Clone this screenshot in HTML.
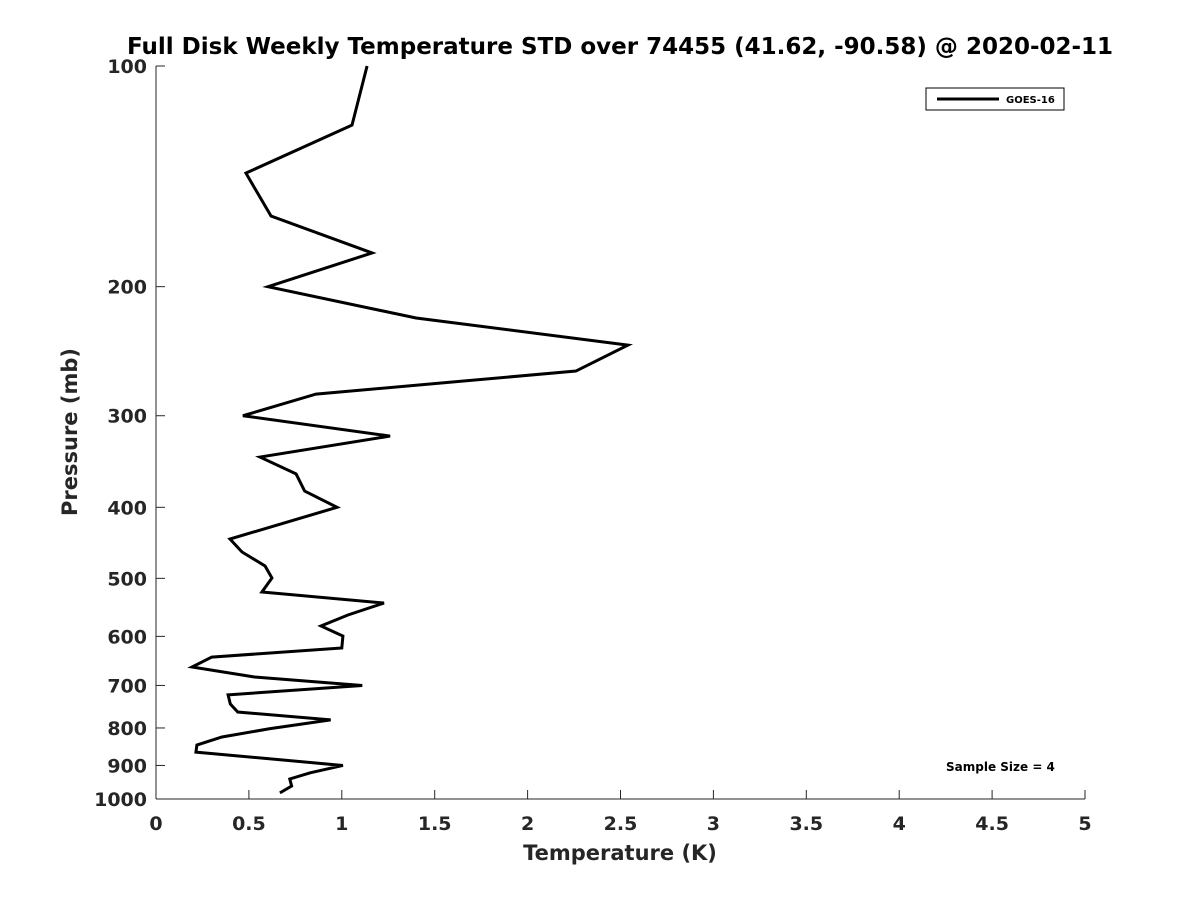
<!DOCTYPE html>
<html><head><meta charset="utf-8"><style>
body{margin:0;background:#fff;}
svg text{font-family:"DejaVu Sans","Liberation Sans",sans-serif;font-weight:bold;fill:#262626;}
</style></head><body>
<svg id="chart" width="1200" height="900" xmlns="http://www.w3.org/2000/svg">
<rect width="1200" height="900" fill="#fff"/>
<text x="620" y="54" text-anchor="middle" font-size="23" style="fill:#000">Full Disk Weekly Temperature STD over 74455 (41.62, -90.58) @ 2020-02-11</text>
<g id="axes"></g>
<text x="620" y="860" text-anchor="middle" font-size="21">Temperature (K)</text>
<text transform="translate(77,432) rotate(-90)" text-anchor="middle" font-size="21">Pressure (mb)</text>
<g>
<rect x="926" y="88" width="138" height="22" fill="#fff" stroke="#000" stroke-width="1"/>
<line x1="937" y1="99" x2="999" y2="99" stroke="#000" stroke-width="3"/>
<text x="1006" y="103" font-size="10" style="fill:#000">GOES-16</text>
</g>
<text x="946" y="771" font-size="12" style="fill:#000">Sample Size = 4</text>
</svg>
<script>
const xTicks=[0,0.5,1,1.5,2,2.5,3,3.5,4,4.5,5];
const xTickLabels=["0","0.5","1","1.5","2","2.5","3","3.5","4","4.5","5"];
const yTicks=[100,200,300,400,500,600,700,800,900,1000];
const pressure=[100,120.4,140,160.2,179.9,200,220.7,240.3,260.7,280.3,300,319.8,341.6,360.2,380.1,400,441.9,460.3,481,499.5,522,540.3,561,580.7,599.4,622.3,640.3,660.6,681.6,700,721,742,761,780,802,823,844,863,900,921,939,960,981];
const stdK=[1.136,1.055,0.484,0.619,1.163,0.603,1.40,2.54,2.26,0.861,0.468,1.26,0.56,0.754,0.80,0.974,0.398,0.463,0.587,0.624,0.57,1.227,1.033,0.888,1.006,1.0,0.30,0.194,0.53,1.11,0.388,0.40,0.44,0.94,0.61,0.355,0.22,0.215,1.006,0.83,0.72,0.73,0.667];
const X0=156,X1=1085,Y0=66,Y1=799;
const xs=v=>X0+(v-0)/(5-0)*(X1-X0);
const ys=p=>Y0+(Math.log10(p)-2)/1*(Y1-Y0);
const NS="http://www.w3.org/2000/svg";
const svg=document.getElementById('chart');
const ax=document.getElementById('axes');
function mk(t,a,parent){const e=document.createElementNS(NS,t);for(const k in a)e.setAttribute(k,a[k]);(parent||ax).appendChild(e);return e;}
const yAxis=mk('line',{x1:X0,y1:Y0,x2:X0,y2:Y1,stroke:'#262626','stroke-width':1});


const xAxis=mk('line',{x1:X0,y1:Y1,x2:X1,y2:Y1,stroke:'#262626','stroke-width':1});


xTicks.forEach((v,i)=>{
  mk('line',{x1:xs(v),y1:Y1,x2:xs(v),y2:Y1-9,stroke:'#262626'});
  const t=mk('text',{x:xs(v),y:Y1+31,'text-anchor':'middle','font-size':19});
  
  
  t.textContent=xTickLabels[i];
});
yTicks.forEach(p=>{
  mk('line',{x1:X0,y1:ys(p),x2:X0+9,y2:ys(p),stroke:'#262626'});
  const t=mk('text',{x:X0-9,y:ys(p)+7,'text-anchor':'end','font-size':19});
  
  
  t.textContent=p;
});
const line=mk('polyline',{points:pressure.map((p,i)=>xs(stdK[i])+','+ys(p)).join(' '),fill:'none',stroke:'#000','stroke-width':3,'stroke-linejoin':'miter'});


</script>
</body></html>
